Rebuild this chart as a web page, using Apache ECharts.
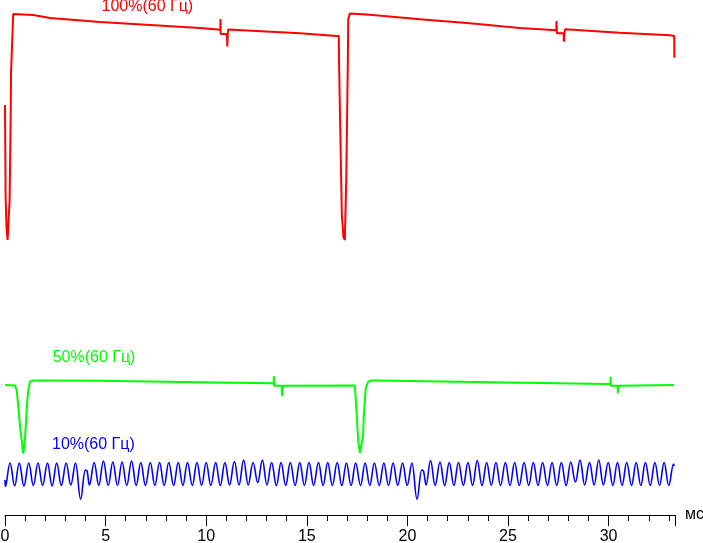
<!DOCTYPE html>
<html><head><meta charset="utf-8">
<script src="https://cdn.jsdelivr.net/npm/echarts@6/dist/echarts.min.js"></script>
<style>html,body{margin:0;padding:0;background:#fff}#c{width:703px;height:543px}</style>
</head><body><div id="c"></div>
<script>
// time in ms, level in arbitrary units
const seriesNames = ['100%(60 Гц)', '50%(60 Гц)', '10%(60 Гц)'];
const seriesColors = ['#ff0000', '#00ff00', '#0000ff'];
const xUnit = 'мс';
const xMax = 33.3;
const xTickStep = 5;

const red100 = [
  [0.00,410],[0.03,318],[0.08,285],[0.13,275],[0.20,277],[0.23,315],[0.28,395],[0.30,443],[0.38,485],[0.41,501],
  [1.40,500],[2.24,497],[4.72,493],[7.20,490],[9.69,487],[10.58,485.5],[10.70,485],
  [10.71,496],[10.72,481],[11.03,481],[11.05,468.5],[11.07,481],[11.09,485.5],
  [11.18,485.7],[14.65,481.7],[16.49,479],[16.59,479],
  [16.60,455],[16.74,301],[16.82,278],[16.89,275],[16.93,308],[16.96,335],[17.04,455],[17.06,496],[17.14,501.5],
  [18.13,500.3],[20.62,495.7],[23.10,491.7],[25.58,487],[27.22,485],[27.40,484.5],
  [27.41,494],[27.43,481.7],[27.76,481.7],[27.78,473.3],[27.80,481.7],[27.84,485.7],
  [30.55,482.3],[33.04,479.7],[33.26,479],[33.27,457.3]
];

const green50 = [
  [0.00,130],[0.49,129.5],[0.58,125],[0.66,108],[0.75,88],[0.83,75],[0.88,65],[0.91,61.5],[0.96,63],[0.99,75],
  [1.04,92],[1.11,115],[1.16,125],[1.24,133.3],[1.40,134.5],
  [2.24,134.5],[4.72,134.3],[9.69,132.7],[13.16,131.7],[13.35,131.5],
  [13.36,139],[13.37,129.3],[13.75,129.3],[13.77,119],[13.79,129.3],[13.88,130.7],
  [17.28,129.5],[17.39,129.3],[17.47,103.3],[17.55,75],[17.64,62],[17.67,60.7],[17.73,61],[17.80,80],[17.83,98.3],
  [17.93,127],[18.05,133.3],[18.22,134.5],[18.50,134.5],
  [23.26,133],[26.58,132],[29.89,131],[30.09,131],
  [30.10,138.3],[30.11,129.3],[30.45,129.3],[30.46,121.7],[30.48,129.3],[30.55,130.7],
  [33.25,130]
];

const blue10 = [
  [0,35],[0.02,28.5],
  [0.25,52],[0.48,29],[0.71,52],[0.94,29],[1.18,52],[1.41,29.5],[1.64,52],[1.87,29.5],
  [2.11,52],[2.34,29],[2.57,52],[2.80,29.5],[3.04,52],[3.27,30],[3.50,52],[3.76,15.7],
  [4.00,45],[4.08,44],[4.20,30],
  [4.43,52.5],[4.66,29.5],[4.89,54],[5.13,29.5],[5.36,53],[5.59,29.5],[5.82,53],[6.05,29.5],
  [6.29,54],[6.52,29.5],[6.75,52.5],[6.98,29.5],[7.22,52.5],[7.45,29.5],[7.68,52.5],[7.91,29.5],
  [8.14,52.5],[8.38,29.5],[8.61,52.5],[8.84,29.5],[9.07,52.5],[9.31,29.5],[9.54,52.5],[9.77,29.5],
  [10.00,52.5],[10.23,29.5],[10.47,52.5],[10.70,29.5],[10.93,52.5],[11.16,30],[11.40,53.5],[11.63,30],
  [11.86,55],[12.09,30],[12.33,52.5],[12.56,32.5],[12.79,55],[13.02,30],[13.25,52.5],[13.49,29.5],
  [13.72,52.5],[13.95,29.5],[14.18,52.5],[14.42,29.5],[14.65,52.5],[14.88,29.5],[15.11,52.5],[15.34,29.5],
  [15.58,52.5],[15.81,29.5],[16.04,52.5],[16.27,29.5],[16.51,52.5],[16.74,29.5],[16.97,52],[17.20,29.5],
  [17.43,52],[17.67,29.5],[17.90,52],[18.13,29.5],[18.36,52],[18.60,29.5],[18.83,52],[19.06,29.5],
  [19.29,52],[19.52,29.5],[19.76,52],[19.99,29.5],[20.22,52],[20.48,15.7],
  [20.72,45],[20.80,44],[20.93,30],
  [21.15,54.5],[21.38,29.5],[21.62,53],[21.85,29.5],[22.08,52.5],[22.31,29.5],[22.54,52.5],[22.78,29.5],
  [23.01,52.5],[23.24,29.5],[23.47,54.5],[23.71,29.5],[23.94,52.5],[24.17,29.5],[24.40,52.5],[24.63,29.5],
  [24.87,52.5],[25.10,29.5],[25.33,52.5],[25.56,29.5],[25.80,52.5],[26.03,29.5],[26.26,52.5],[26.49,29.5],
  [26.72,52.5],[26.96,29.5],[27.19,52.5],[27.42,29.5],[27.65,52.5],[27.89,29.5],[28.12,53],[28.35,33],
  [28.58,55],[28.81,30],[29.05,52.5],[29.28,30],[29.51,55],[29.74,30],[29.98,52.5],[30.21,29.5],
  [30.44,52.5],[30.67,29.5],[30.90,52.5],[31.14,29.5],[31.37,52.5],[31.60,29.5],[31.83,52.5],[32.07,29.5],
  [32.30,52.5],[32.53,29.5],[32.76,52.5],[32.99,29.5],[33.23,51],[33.26,49]
];

// layout of the in-plot labels (pixels)
const labelPos = [[101.5, 7], [52.7, 357.5], [52, 445]];

const chart = echarts.init(document.getElementById('c'), null, {renderer: 'canvas'});
const FONT = '"Liberation Sans", Arial, sans-serif';
chart.setOption({
  animation: false,
  backgroundColor: '#ffffff',
  grid: {left: 5, right: 28, top: 0, bottom: 28, containLabel: false, outerBoundsMode: 'none'},
  xAxis: {
    type: 'value', min: 0, max: xMax, interval: xTickStep,
    name: xUnit, nameLocation: 'end', nameGap: 10,
    nameTextStyle: {fontSize: 16, fontFamily: FONT, color: '#000', verticalAlign: 'middle', align: 'left'},
    axisLine: {show: true, onZero: false, lineStyle: {color: '#000', width: 1}},
    axisTick: {show: true, length: 11, lineStyle: {color: '#000', width: 1}},
    minorTick: {show: true, splitNumber: 5, length: 6, lineStyle: {color: '#000', width: 1}},
    axisLabel: {fontSize: 16, fontFamily: FONT, color: '#000', margin: 14, showMaxLabel: false},
    splitLine: {show: false}, minorSplitLine: {show: false}
  },
  yAxis: {type: 'value', min: 0, max: 515, show: false, splitLine: {show: false}},
  series: [
    {name: seriesNames[0], type: 'line', data: red100, showSymbol: false, symbol: 'none',
     lineStyle: {color: seriesColors[0], width: 2}, z: 3},
    {name: seriesNames[1], type: 'line', data: green50, showSymbol: false, symbol: 'none',
     lineStyle: {color: seriesColors[1], width: 2}, z: 3},
    {name: seriesNames[2], type: 'line', data: blue10, showSymbol: false, symbol: 'none', smooth: 0.4,
     lineStyle: {color: seriesColors[2], width: 1.6}, z: 3}
  ],
  graphic: seriesNames.map((n, i) => ({
    type: 'text', x: labelPos[i][0], y: labelPos[i][1], z: 10,
    style: {text: n, fill: seriesColors[i], font: '16px ' + FONT, textAlign: 'left', textVerticalAlign: 'middle', verticalAlign: 'middle'}
  }))
});
</script>
</body></html>
